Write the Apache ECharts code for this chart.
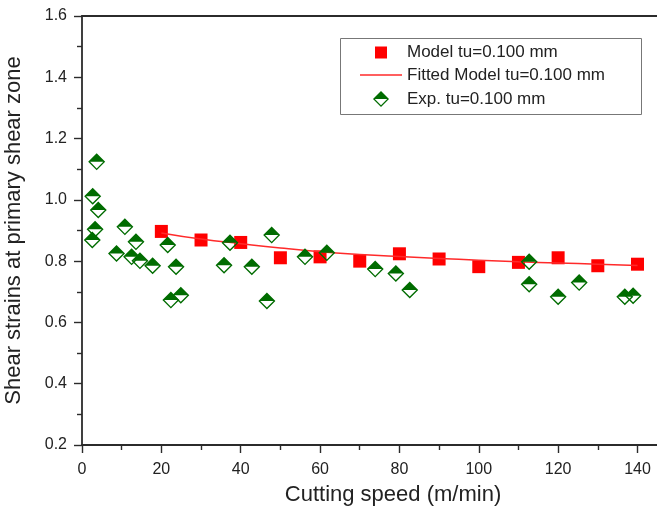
<!DOCTYPE html>
<html>
<head>
<meta charset="utf-8">
<script src="https://cdn.jsdelivr.net/npm/echarts@6/dist/echarts.min.js"></script>
<style>
  html, body { margin: 0; padding: 0; background: #fff; }
  #chart { width: 657px; height: 511px; }
</style>
</head>
<body>
<div id="chart"></div>
<script>
// ---- data ----
const modelSpeed  = [20, 30, 40, 50, 60, 70, 80, 90, 100, 110, 120, 130, 140];
const modelStrain = [0.897, 0.869, 0.861, 0.811, 0.814, 0.800, 0.824, 0.807, 0.782, 0.796, 0.811, 0.785, 0.790];

const fitSpeed  = [20, 30, 40, 50, 60, 70, 80, 90, 100, 110, 120, 130, 140];
const fitStrain = [0.892, 0.872, 0.857, 0.843, 0.831, 0.822, 0.815, 0.809, 0.803, 0.798, 0.794, 0.790, 0.786];

const expSpeed  = [3.7, 2.7, 4.1, 3.3, 2.6, 8.7, 10.8, 13.6, 12.5, 14.6, 17.8, 21.6, 23.7, 22.4, 24.9,
                   37.3, 35.8, 42.8, 47.8, 46.6, 56.2, 61.7, 73.9, 79.1, 82.6, 112.7, 112.7, 120.0,
                   125.3, 136.8, 138.9];
const expStrain = [1.124, 1.012, 0.967, 0.904, 0.869, 0.825, 0.912, 0.863, 0.814, 0.801, 0.785, 0.853, 0.782, 0.673, 0.689,
                   0.860, 0.787, 0.782, 0.885, 0.670, 0.814, 0.827, 0.774, 0.760, 0.706, 0.798, 0.725, 0.684,
                   0.730, 0.684, 0.687];

const seriesNames = ['Model tu=0.100 mm', 'Fitted Model tu=0.100 mm', 'Exp. tu=0.100 mm'];
const xTitle = 'Cutting speed (m/min)';
const yTitle = 'Shear strains at primary shear zone';

// ---- chart ----
const zip = (a, b) => a.map((v, i) => [v, b[i]]);
const FONT = '"Liberation Sans", Arial, Helvetica, sans-serif';
const AXIS_COLOR = '#2b2b2b';
const TEXT_COLOR = '#222';
const RED = '#ff0000';
const LINE_RED = '#ff2a2a';
const GREEN = '#006c00';
const halfDiamond = 'path://M0,8 L8,0 L16,8 Z M0,8 L8,16 L16,8 L14.2,8 L8,14.2 L1.8,8 Z';
const squarePath = 'path://M0,0 L10,0 L10,10 L0,10 Z';

const chart = echarts.init(document.getElementById('chart'), null, { renderer: 'canvas' });

// legend slot: icon box 42 wide starting at x=360, text starts at 407
function legendFor(name, icon, top, iconW, h, color) {
  return {
    data: [{ name: name, icon: icon, itemStyle: { color: color, borderWidth: 0 } }],
    left: 360 + (42 - iconW) / 2, top: top, orient: 'vertical', padding: 0,
    itemWidth: 42, itemHeight: h, selectedMode: false, symbolKeepAspect: true,
    textStyle: { fontFamily: FONT, fontSize: 17, color: TEXT_COLOR }
  };
}

chart.setOption({
  animation: false,
  backgroundColor: '#fff',
  textStyle: { fontFamily: FONT },
  grid: { left: 82, top: 16, right: -40, bottom: 66, outerBoundsMode: 'none' },
  graphic: [{
    type: 'rect', left: 338, top: 36, z: 10,
    shape: { x: 0, y: 0, width: 301, height: 76 },
    style: { fill: 'none', stroke: '#777', lineWidth: 1 }
  }],
  legend: [
    legendFor(seriesNames[0], squarePath, 44, 12, 12, RED),
    legendFor(seriesNames[1], 'rect', 66.5, 42, 1.5, LINE_RED),
    legendFor(seriesNames[2], halfDiamond, 90.5, 16, 16, GREEN)
  ],
  xAxis: [{
    type: 'value', min: 0, max: 155, interval: 20,
    name: xTitle, nameLocation: 'middle', nameGap: 39,
    nameTextStyle: { fontFamily: FONT, fontSize: 22, color: TEXT_COLOR, padding: [0, 0, 0, 7] },
    axisLine: { show: true, onZero: false, lineStyle: { color: AXIS_COLOR, width: 1.8 } },
    axisTick: { show: true, inside: false, length: 8, lineStyle: { color: AXIS_COLOR, width: 1.4 } },
    minorTick: { show: true, splitNumber: 2, length: 5, lineStyle: { color: AXIS_COLOR, width: 1.4 } },
    axisLabel: { fontFamily: FONT, fontSize: 16, color: TEXT_COLOR, margin: 17, showMaxLabel: false },
    splitLine: { show: false }
  }, {
    type: 'value', position: 'top', min: 0, max: 155,
    axisLine: { show: true, onZero: false, lineStyle: { color: AXIS_COLOR, width: 1.8 } },
    axisTick: { show: false }, axisLabel: { show: false }, splitLine: { show: false }
  }],
  yAxis: {
    type: 'value', min: 0.2, max: 1.6, interval: 0.2,
    name: yTitle, nameLocation: 'middle', nameGap: 57,
    nameTextStyle: { fontFamily: FONT, fontSize: 22, color: TEXT_COLOR },
    axisLine: { show: true, onZero: false, lineStyle: { color: AXIS_COLOR, width: 1.8 } },
    axisTick: { show: true, inside: false, length: 8, lineStyle: { color: AXIS_COLOR, width: 1.4 } },
    minorTick: { show: true, splitNumber: 2, length: 5, lineStyle: { color: AXIS_COLOR, width: 1.4 } },
    axisLabel: { fontFamily: FONT, fontSize: 16, color: TEXT_COLOR, margin: 15,
                 formatter: v => v.toFixed(1) },
    splitLine: { show: false }
  },
  series: [{
    name: seriesNames[0], type: 'scatter', xAxisIndex: 0,
    symbol: 'rect', symbolSize: 13,
    itemStyle: { color: RED, opacity: 1 },
    data: zip(modelSpeed, modelStrain), z: 2
  }, {
    name: seriesNames[1], type: 'line', xAxisIndex: 0,
    symbol: 'none', showSymbol: false, smooth: true,
    lineStyle: { color: LINE_RED, width: 1.5 },
    itemStyle: { color: LINE_RED },
    data: zip(fitSpeed, fitStrain), z: 3
  }, {
    name: seriesNames[2], type: 'scatter', xAxisIndex: 0,
    symbol: halfDiamond, symbolSize: 17,
    itemStyle: { color: GREEN, opacity: 1 },
    data: zip(expSpeed, expStrain), z: 4
  }]
});
</script>
</body>
</html>
